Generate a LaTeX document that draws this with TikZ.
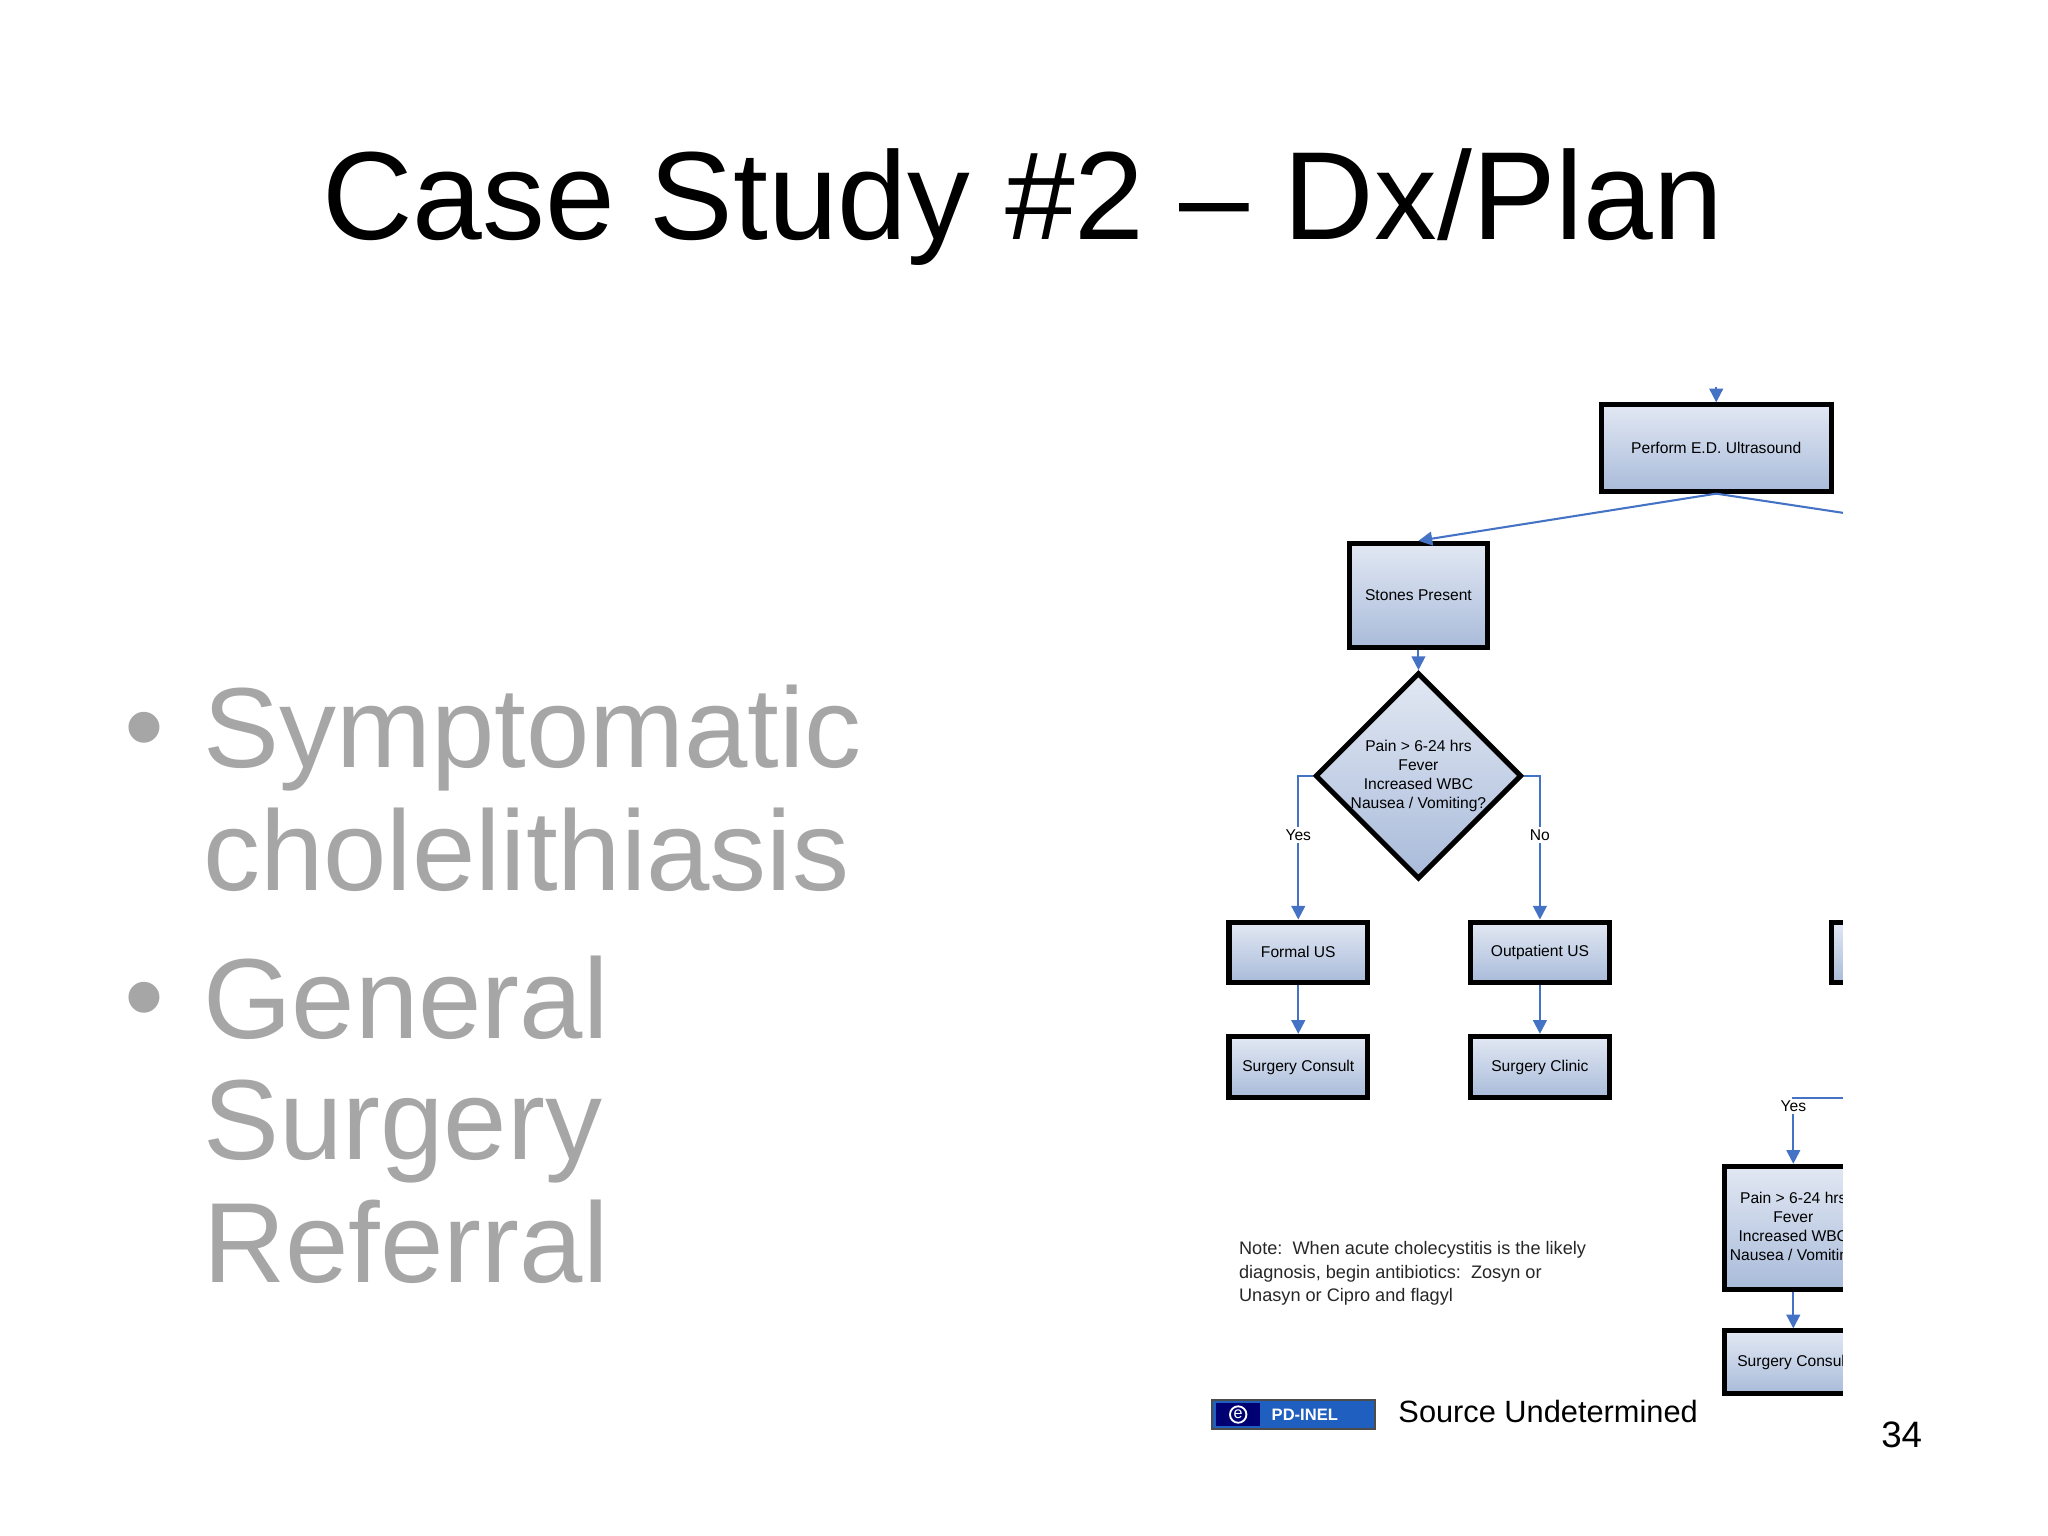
\documentclass[tikz,border=0pt]{standalone}
\usepackage{fontspec}
\setmainfont{Liberation Sans}
\usetikzlibrary{shapes.geometric,arrows.meta}
\definecolor{arr}{HTML}{4472C4}
\definecolor{bul}{HTML}{A6A6A6}
\definecolor{ftop}{HTML}{E2E8F3}
\definecolor{fbot}{HTML}{A9BBDA}
\definecolor{bdg}{HTML}{1F5FBF}
\begin{document}
\begin{tikzpicture}[x=0.01cm,y=-0.01cm,
  box/.style={draw=black,line width=1.1pt,top color=ftop,bottom color=fbot,
    minimum width=#1,inner sep=0pt,font=\fontsize{3.4pt}{4.1pt}\selectfont,align=center},
  con/.style={draw=arr,line width=0.45pt,-{Triangle[length=3pt,width=3pt]}},
  lab/.style={fill=white,inner sep=0.5pt,font=\fontsize{3.4pt}{4pt}\selectfont},
  big/.style={anchor=base west,text=bul,inner sep=0pt,font=\fontsize{24.8pt}{26pt}\selectfont}]
\useasboundingbox (0,0) rectangle (1568,1176);
\node[anchor=base,inner sep=0pt,font=\fontsize{27.3pt}{29pt}\selectfont] (title) at (783,183) {Case Study \#2 – Dx/Plan};
\node[big] (b1d) at (95,586) {•};
\node[big] (b1) at (155,588) {Symptomatic};
\node[big] (b1b) at (155,682) {cholelithiasis};
\node[big] (b2d) at (95,793) {•};
\node[big] (b2) at (155,795) {General};
\node[big] (b2b) at (155,888) {Surgery};
\node[big] (b2c) at (155,982) {Referral};
\begin{scope}
\clip (900,280) rectangle (1411,1080);
\node[box=1.76cm,minimum height=0.66cm] (ultra) at (1314,343) {Perform E.D. Ultrasound};
\node[box=1.06cm,minimum height=0.80cm] (stones) at (1086,456) {Stones Present};
\node[box=1.44cm,diamond,minimum height=1.44cm] (dia) at (1086,594) {Pain > 6-24 hrs\\Fever\\Increased WBC\\Nausea / Vomiting?};
\node[box=1.06cm,minimum height=0.46cm] (formal) at (994,729) {Formal US};
\node[box=1.06cm,minimum height=0.46cm] (outp) at (1179,729) {Outpatient US};
\node[box=1.06cm,minimum height=0.47cm] (scons) at (994,817) {Surgery Consult};
\node[box=1.06cm,minimum height=0.47cm] (clinic) at (1179,817) {Surgery Clinic};
\node[box=1.06cm,minimum height=0.46cm] (part) at (1455,729) {};
\node[box=1.06cm,minimum height=0.94cm] (pain2) at (1373,940) {Pain > 6-24 hrs\\Fever\\Increased WBC\\Nausea / Vomiting};
\node[box=1.06cm,minimum height=0.48cm] (scons2) at (1373,1043) {Surgery Consult};
\coordinate (top) at (1314,296);
\coordinate (rt) at (1420,394);
\coordinate (ry) at (1420,841);
\draw[con] (top) -- (ultra.north);
\draw[con] (ultra.south) -- (stones.north);
\draw[draw=arr,line width=0.45pt] (ultra.south) -- (rt);
\draw[con] (stones.south) -- (dia.north);
\draw[con] (dia.west) -| node[lab,pos=0.705]{Yes} (formal.north);
\draw[con] (dia.east) -| node[lab,pos=0.705]{No} (outp.north);
\draw[con] (formal.south) -- (scons.north);
\draw[con] (outp.south) -- (clinic.north);
\draw[con] (ry) -| node[lab,pos=0.56]{Yes} (pain2.north);
\draw[con] (pain2.south) -- (scons2.north);
\end{scope}
\node[anchor=north west,align=left,inner sep=0pt,text=black!85,font=\fontsize{3.95pt}{5.1pt}\selectfont] (note) at (948,950) {Note:\ \ When acute cholecystitis is the likely\\diagnosis, begin antibiotics:\ \ Zosyn or\\Unasyn or Cipro and flagyl};
\node[draw=black!70,fill=bdg,minimum width=1.25cm,minimum height=0.22cm,inner sep=0pt] (badge) at (990.5,1083) {};
\node[fill=blue!45!black,minimum width=0.34cm,minimum height=0.18cm,inner sep=0pt] (bl) at (948,1083) {};
\node[draw=white,circle,inner sep=0.3pt,text=white,font=\fontsize{3.5pt}{3.5pt}\selectfont] (bc) at (948,1083) {e};
\node[text=white,font=\bfseries\fontsize{3.6pt}{4pt}\selectfont] (bt) at (999,1083) {PD-INEL};
\node[anchor=base west,inner sep=0pt,font=\fontsize{6.7pt}{7pt}\selectfont] (src) at (1070,1089) {Source Undetermined};
\node[anchor=base,inner sep=0pt,font=\fontsize{8pt}{8pt}\selectfont] (pg) at (1456,1108) {34};
\end{tikzpicture}
\end{document}
